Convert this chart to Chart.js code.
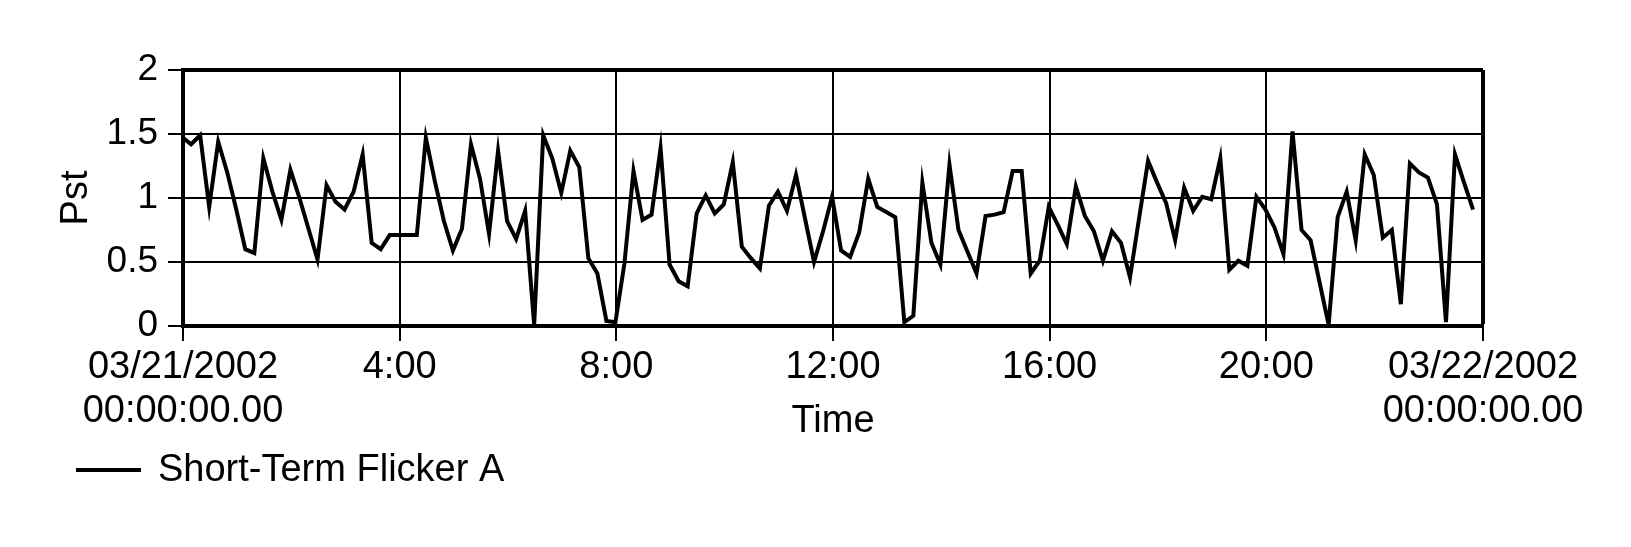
<!DOCTYPE html>
<html>
<head>
<meta charset="utf-8">
<title>Short-Term Flicker A</title>
<script src="https://cdn.jsdelivr.net/npm/chart.js@4.4.1/dist/chart.umd.min.js"></script>
<style>
  html, body { margin:0; padding:0; background:#fff; }
  #wrap { width:1631px; height:547px; }
</style>
</head>
<body>
<div id="wrap"><canvas id="flickerChart" width="1631" height="547"></canvas></div>
<script>
// Pst readings for 03/21/2002, one every 10 minutes (first value sits on midnight)
const seriesLabel = 'Short-Term Flicker A';
const firstSample = 9;   // minutes after midnight of the first 10-min reading
const sampleStep = 10;
const pstValues = [
  1.47,
  1.42, 1.49, 0.93, 1.44, 1.20, 0.91, 0.60, 0.57, 1.31, 1.05,
  0.83, 1.22, 1.00, 0.76, 0.52, 1.10, 0.97, 0.91, 1.05, 1.34,
  0.65, 0.60, 0.71, 0.71, 0.71, 0.71, 1.47, 1.13, 0.82, 0.59,
  0.76, 1.42, 1.15, 0.72, 1.37, 0.82, 0.68, 0.90, 0.01, 1.49,
  1.31, 1.04, 1.37, 1.24, 0.53, 0.41, 0.04, 0.03, 0.49, 1.21,
  0.83, 0.87, 1.39, 0.48, 0.35, 0.31, 0.88, 1.02, 0.88, 0.95,
  1.28, 0.62, 0.53, 0.45, 0.94, 1.05, 0.90, 1.18, 0.84, 0.50,
  0.74, 1.01, 0.59, 0.54, 0.73, 1.15, 0.93, 0.89, 0.85, 0.03,
  0.08, 1.12, 0.65, 0.48, 1.26, 0.75, 0.58, 0.41, 0.86, 0.87,
  0.89, 1.21, 1.21, 0.41, 0.51, 0.93, 0.79, 0.64, 1.09, 0.86,
  0.74, 0.51, 0.74, 0.65, 0.38, 0.84, 1.29, 1.12, 0.96, 0.67,
  1.08, 0.90, 1.01, 0.99, 1.31, 0.44, 0.51, 0.47, 1.01, 0.91,
  0.77, 0.56, 1.52, 0.75, 0.67, 0.34, 0.01, 0.85, 1.05, 0.67,
  1.34, 1.18, 0.69, 0.75, 0.17, 1.27, 1.20, 1.16, 0.95, 0.03,
  1.34, 1.12, 0.91
];
const xTickMinutes = [0, 240, 480, 720, 960, 1200, 1440];
const xTickLabels = [
  ['03/21/2002', '00:00:00.00'], '4:00', '8:00', '12:00', '16:00', '20:00',
  ['03/22/2002', '00:00:00.00']
];
const yTicks = [0, 0.5, 1, 1.5, 2];

const FONT = '"Liberation Sans", Arial, Helvetica, sans-serif';

const points = pstValues.map((v, i) => ({
  x: i === 0 ? 0 : firstSample + sampleStep * (i - 1),
  y: v
}));

// legend drawn under the axis labels, left side
const legendLine = {
  id: 'legendLine',
  afterDraw(chart) {
    const ds = chart.data.datasets[0];
    const ctx = chart.ctx;
    ctx.save();
    ctx.strokeStyle = ds.borderColor;
    ctx.lineWidth = 4;
    ctx.beginPath();
    ctx.moveTo(76, 470);
    ctx.lineTo(141, 470);
    ctx.stroke();
    ctx.fillStyle = '#000';
    ctx.font = '38px ' + FONT;
    ctx.textBaseline = 'middle';
    ctx.textAlign = 'left';
    ctx.fillText(ds.label, 158, 471);
    ctx.restore();
  }
};

new Chart(document.getElementById('flickerChart'), {
  type: 'line',
  data: {
    datasets: [{
      label: seriesLabel,
      data: points,
      borderColor: '#000',
      backgroundColor: '#000',
      borderWidth: 4,
      pointRadius: 0,
      tension: 0,
      fill: false
    }]
  },
  options: {
    responsive: false,
    animation: false,
    layout: { padding: { top: 70, right: 148, left: 0, bottom: 0 } },
    plugins: { legend: { display: false }, tooltip: { enabled: false } },
    scales: {
      x: {
        type: 'linear',
        min: 0,
        max: 1440,
        afterBuildTicks: s => { s.ticks = xTickMinutes.map(v => ({ value: v })); },
        afterFit: s => { s.height = 221; },
        ticks: {
          autoSkip: false,
          maxRotation: 0,
          padding: 4,
          color: '#000',
          font: { family: FONT, size: 38, lineHeight: 1.171 },
          callback: v => xTickLabels[xTickMinutes.indexOf(v)]
        },
        grid: {
          color: '#000',
          lineWidth: c => (c.tick && c.tick.value === 1440 ? 4 : 2),
          tickLength: 15,
          tickWidth: 2,
          tickColor: '#000'
        },
        border: { display: true, color: '#000', width: 4 },
        title: {
          display: true,
          text: 'Time',
          color: '#000',
          font: { family: FONT, size: 38 },
          padding: { top: 0, bottom: 103 }
        }
      },
      y: {
        min: 0,
        max: 2,
        afterBuildTicks: s => { s.ticks = yTicks.map(v => ({ value: v })); },
        afterFit: s => { s.width = 183; },
        ticks: {
          padding: 10,
          color: '#000',
          font: { family: FONT, size: 37 },
          callback: v => String(v)
        },
        grid: {
          color: '#000',
          lineWidth: c => (c.tick && c.tick.value === 2 ? 4 : 2),
          tickLength: 15,
          tickWidth: 2,
          tickColor: '#000'
        },
        border: { display: true, color: '#000', width: 4 },
        title: {
          display: true,
          text: 'Pst',
          color: '#000',
          font: { family: FONT, size: 38 },
          padding: { top: 54, bottom: 0 }
        }
      }
    }
  },
  plugins: [legendLine]
});
</script>
</body>
</html>
